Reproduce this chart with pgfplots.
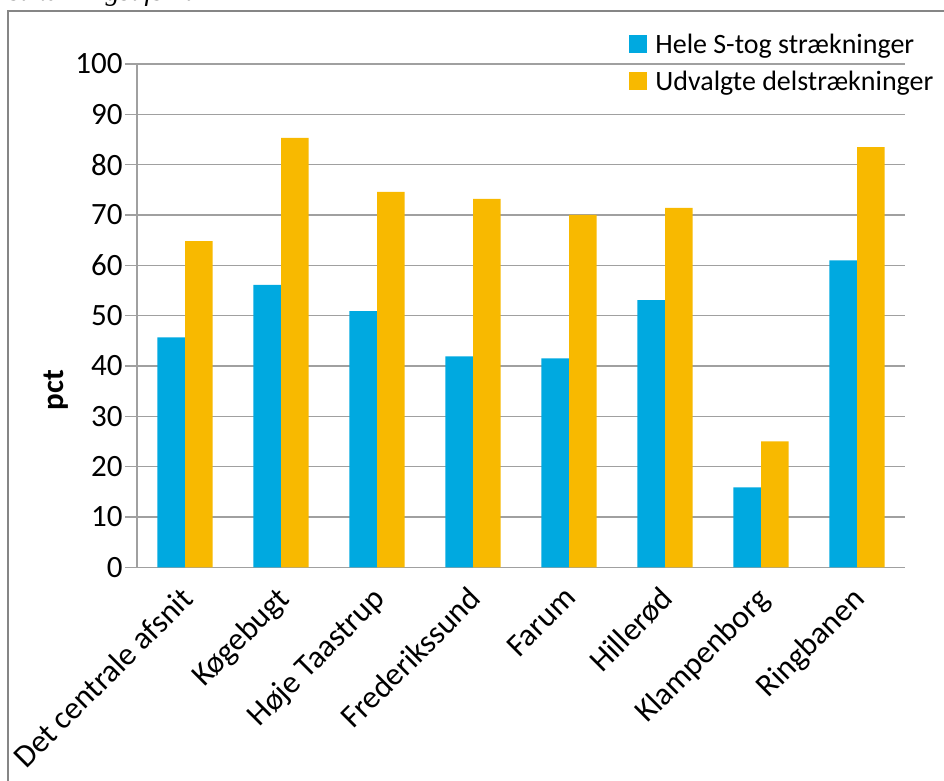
\documentclass[border=0pt]{standalone}
\usepackage{fontspec}
\setmainfont{Carlito}
\newfontfamily\titlefont{Liberation Serif}
\usepackage{pgfplots}
\pgfplotsset{compat=1.18}
\definecolor{cblue}{RGB}{0,169,224}
\definecolor{corange}{RGB}{248,185,0}
\definecolor{cgrid}{RGB}{160,160,160}
\definecolor{cframe}{RGB}{134,134,134}
\begin{document}
\begin{tikzpicture}[x=1pt,y=1pt]
\useasboundingbox (0,0) rectangle (944,780);
\draw[cframe, line width=1.3pt] (8,-20) -- (8,769) -- (960,769);
\node[anchor=base east, inner sep=0pt, font=\titlefont\itshape\fontsize{28}{32}\selectfont] at (193,779) {Trafik pr. strækningsafsnit};
\begin{axis}[
  at={(137pt,212.7pt)}, anchor=south west,
  scale only axis, width=768pt, height=503.3pt,
  ybar=0pt, bar width=27.6pt,
  xmin=-0.5, xmax=7.5, ymin=0, ymax=100,
  xtick={0,...,7},
  xticklabels={Det centrale afsnit,Køgebugt,Høje Taastrup,Frederikssund,Farum,Hillerød,Klampenborg,Ringbanen},
  ytick={0,10,...,100},
  axis x line*=bottom, axis y line*=left,
  axis line style={cgrid, line width=1.2pt, -},
  ymajorgrids, major grid style={cgrid, line width=1.2pt},
  tick align=outside, major tick length=12pt,
  ytick style={cgrid, line width=1.2pt},
  xtick style={draw=none},
  tick label style={font=\fontsize{31}{36}\selectfont},
  /pgf/number format/assume math mode=true,
  xticklabel style={xshift=-6pt, yshift=-1pt, rotate=45, anchor=north east, font=\fontsize{32}{36}\selectfont},
  yticklabel style={xshift=1pt},
  legend style={at={(axis description cs:0.637,1.068)}, anchor=north west, draw=none, fill=none,
     font=\fontsize{28}{32}\selectfont, row sep=12pt, column sep=6pt,
     nodes={inner sep=2pt}},
  legend cell align=left,
  legend image code/.code={\fill[#1, draw=none] (0pt,-9pt) rectangle (18pt,9pt);},
]
\addplot[fill=cblue, draw=none] coordinates {(0,45.7) (1,56.1) (2,50.9) (3,41.9) (4,41.5) (5,53.1) (6,15.9) (7,61.0)};
\addplot[fill=corange, draw=none] coordinates {(0,64.8) (1,85.3) (2,74.6) (3,73.2) (4,70.0) (5,71.4) (6,25.0) (7,83.5)};
\legend{Hele S-tog strækninger, Udvalgte delstrækninger}
\end{axis}
\node[rotate=90, font=\bfseries\fontsize{31}{36}\selectfont] at (56,390) {pct};
\end{tikzpicture}
\end{document}
